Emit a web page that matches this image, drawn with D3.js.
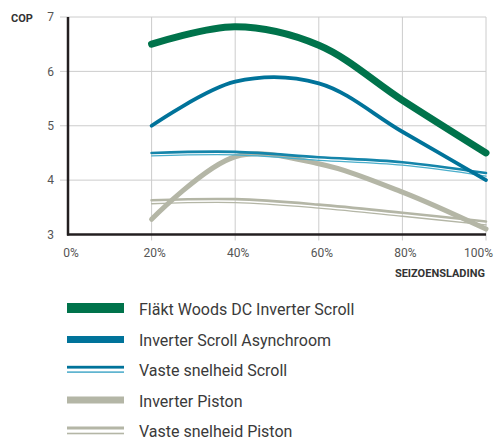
<!DOCTYPE html>
<html>
<head>
<meta charset="utf-8">
<script src="https://cdn.jsdelivr.net/npm/d3@7"></script>
<style>
  body { margin: 0; background: #fff; }
  text { font-family: Roboto, "DejaVu Sans", sans-serif; }
</style>
</head>
<body>
<div id="vis"></div>
<script>
// load points (%), and COP per series
var loads = [20, 40, 60, 80, 100];
var flaktWoods = [6.5, 6.82, 6.48, 5.47, 4.5];
var inverterScroll = [5.0, 5.81, 5.78, 4.89, 4.0];
var vasteScroll = [4.5, 4.52, 4.42, 4.33, 4.13];
var inverterPiston = [3.28, 4.43, 4.3, 3.78, 3.1];
var vastePiston = [3.63, 3.65, 3.55, 3.4, 3.24];

var xTicks = [0, 20, 40, 60, 80, 100];
var yTicks = [3, 4, 5, 6, 7];

var width = 494, height = 439;

var svg = d3.select("#vis").append("svg")
    .attr("width", width)
    .attr("height", height);

var x = d3.scaleLinear().domain([0, 100]).range([68, 486]);
var y = d3.scaleLinear().domain([3, 7]).range([234.5, 17]);

// grid
svg.selectAll(".hgrid")
    .data(yTicks.slice(1))
    .enter().append("line")
    .attr("x1", x(0) - 8).attr("x2", x(100))
    .attr("y1", function(d) { return y(d); })
    .attr("y2", function(d) { return y(d); })
    .attr("stroke", "#cccccc").attr("stroke-width", 1);

svg.selectAll(".vgrid")
    .data(xTicks.slice(1))
    .enter().append("line")
    .attr("x1", function(d) { return x(d); })
    .attr("x2", function(d) { return x(d); })
    .attr("y1", y(7)).attr("y2", y(3) + 6)
    .attr("stroke", "#cccccc").attr("stroke-width", 1);

// tick labels
svg.selectAll(".ylab")
    .data(yTicks)
    .enter().append("text")
    .attr("x", 54)
    .attr("y", function(d) { return y(d); })
    .attr("dy", "0.36em")
    .attr("text-anchor", "end")
    .attr("fill", "#555")
    .style("font-size", "12px")
    .text(function(d) { return d; });

// last label is pushed against the right edge, as in the original
svg.selectAll(".xlab")
    .data(xTicks)
    .enter().append("text")
    .attr("x", function(d) { return d == 100 ? 493 : x(d) + 3; })
    .attr("y", 257)
    .attr("text-anchor", function(d) { return d == 100 ? "end" : "middle"; })
    .attr("fill", "#555")
    .style("font-size", "12px")
    .text(function(d) { return d + "%"; });

svg.append("text")
    .attr("x", 11).attr("y", 21.5)
    .attr("fill", "#333")
    .style("font-size", "11px").style("font-weight", "bold")
    .text("COP");

svg.append("text")
    .attr("x", 485).attr("y", 276.5)
    .attr("text-anchor", "end")
    .attr("fill", "#333")
    .style("font-size", "11px").style("font-weight", "bold")
    .text("SEIZOENSLADING");

// lines
var line = d3.line()
    .x(function(d, i) { return x(loads[i]); })
    .y(function(d) { return y(d); })
    .curve(d3.curveCatmullRom);

function drawLine(vals, color, w, dy) {
  svg.append("path")
      .attr("d", line(vals))
      .attr("transform", "translate(0," + (dy || 0) + ")")
      .attr("fill", "none")
      .attr("stroke", color)
      .attr("stroke-width", w)
      .attr("stroke-linecap", "round");
}

drawLine(vastePiston, "#b4b6a6", 1.3, 3.5);
drawLine(vastePiston, "#b4b6a6", 2.6, 0);
drawLine(inverterPiston, "#b4b6a6", 5, 0);
drawLine(vasteScroll, "#4aaecb", 1.3, 3);
drawLine(vasteScroll, "#1585aa", 2.6, 0);
drawLine(inverterScroll, "#00739a", 3.8, 0);
drawLine(flaktWoods, "#00734b", 7, 0);

// axes
svg.append("line")
    .attr("x1", x(0)).attr("x2", x(0))
    .attr("y1", y(7)).attr("y2", y(3) + 1)
    .attr("stroke", "#231f20").attr("stroke-width", 2.5);
svg.append("line")
    .attr("x1", x(0) - 1).attr("x2", x(100))
    .attr("y1", y(3)).attr("y2", y(3))
    .attr("stroke", "#231f20").attr("stroke-width", 2.5);

// legend
var legendNames = ["Fläkt Woods DC Inverter Scroll", "Inverter Scroll Asynchroom",
  "Vaste snelheid Scroll", "Inverter Piston", "Vaste snelheid Piston"];
var legendRowY = [308, 339.5, 369.5, 400, 430.5];

var lg = svg.append("g");
function swatch(cy, color, h) {
  lg.append("rect")
      .attr("x", 67).attr("width", 57)
      .attr("y", cy - h / 2).attr("height", h)
      .attr("fill", color);
}
swatch(legendRowY[0], "#00734b", 10);
swatch(legendRowY[1], "#00739a", 7);
swatch(legendRowY[2] - 2.3, "#00739a", 2.8);
swatch(legendRowY[2] + 2.6, "#3aa3c5", 1.4);
swatch(legendRowY[3], "#b4b6a6", 7);
swatch(legendRowY[4] - 2.5, "#b4b6a6", 3);
swatch(legendRowY[4] + 3, "#b4b6a6", 1.6);

lg.selectAll(".ltext")
    .data(legendNames)
    .enter().append("text")
    .attr("x", 139)
    .attr("y", function(d, i) { return legendRowY[i] + 6.5; })
    .attr("fill", "#3a3a3a")
    .style("font-size", "16px")
    .text(function(d) { return d; });
</script>
</body>
</html>
